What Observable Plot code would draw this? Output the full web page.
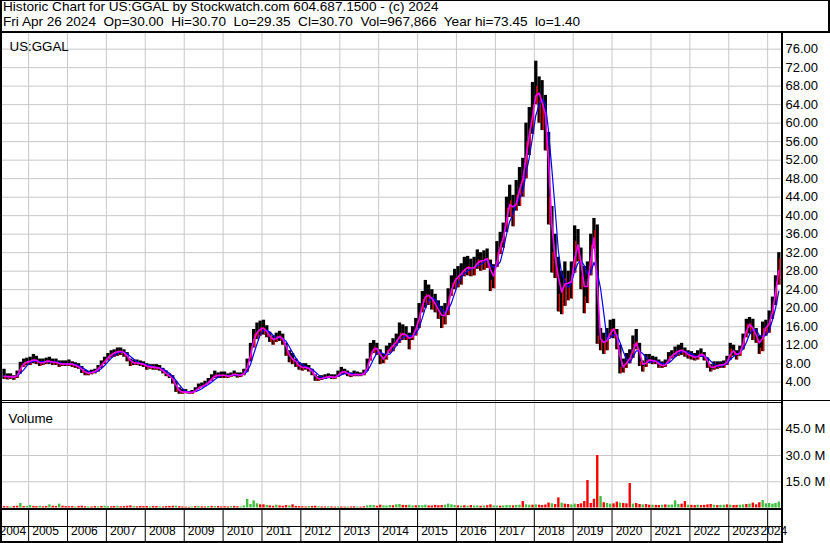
<!DOCTYPE html>
<html><head><meta charset="utf-8">
<script src="https://cdn.jsdelivr.net/npm/d3@7"></script>
<script src="https://cdn.jsdelivr.net/npm/@observablehq/plot@0.6"></script>
<style>
html,body{margin:0;padding:0;background:#fff;}
#chart{position:relative;width:830px;height:543px;background:#fff;overflow:hidden;font-family:'Liberation Sans',Arial,sans-serif;color:#000;}
.ln{position:absolute;background:#000;}
.tl{position:absolute;left:3px;font-size:13.6px;line-height:14px;white-space:pre;color:#000;}
.pl{position:absolute;left:0;}
</style></head>
<body>
<div id="chart">
  <div class="tl" style="top:0px">Historic Chart for US:GGAL by Stockwatch.com 604.687.1500 - (c) 2024</div>
  <div class="tl" style="top:14.5px">Fri Apr 26 2024  Op=30.00  Hi=30.70  Lo=29.35  Cl=30.70  Vol=967,866  Year hi=73.45  lo=1.40</div>
  <div class="pl" id="price" style="top:32px"></div>
  <div class="pl" id="vol" style="top:402px"></div>
  <div class="pl" id="xaxis" style="top:510px"></div>
  <div class="ln" style="left:0;top:0;width:830px;height:1px"></div>
  <div class="ln" style="left:0;top:31px;width:830px;height:2px"></div>
  <div class="ln" style="left:0;top:0;width:2px;height:543px"></div>
  <div class="ln" style="left:828px;top:0;width:2px;height:33px"></div>
  <div class="ln" style="left:781px;top:31px;width:2px;height:512px"></div>
  <div class="ln" style="left:0;top:400px;width:830px;height:1px"></div>
  <div class="ln" style="left:0;top:402px;width:781px;height:1px"></div>
  <div class="ln" style="left:0;top:508px;width:781px;height:2px"></div>
  <div class="ln" style="left:0;top:526px;width:781px;height:1px"></div>
  <div class="ln" style="left:0;top:541px;width:781px;height:2px"></div>
</div>
<script>
// ---- Data (monthly, May 2004 .. Apr 2024) ----
const firstMonth = "2004-05";
const hi = [
  6.8,5.8,5.8,5.4,6.4,8.3,9.0,9.2,
  9.4,10.0,9.6,9.0,9.0,9.2,9.4,9.0,9.0,8.6,8.6,8.6,
  8.8,8.4,8.2,8.0,7.4,6.6,6.4,6.6,6.8,7.6,8.6,9.4,
  10.2,10.8,11.0,11.4,11.4,11.0,10.4,9.0,8.8,8.8,8.6,8.4,
  8.0,7.8,7.8,7.8,7.6,7.0,6.4,5.8,5.4,4.2,2.8,2.4,
  2.4,2.0,2.2,2.8,3.6,3.8,4.2,4.8,5.6,6.4,6.0,6.2,
  6.2,5.8,6.0,6.4,6.0,6.0,6.8,9.0,12.4,15.4,16.8,17.2,
  17.4,16.2,14.8,14.0,14.6,15.0,14.4,12.4,10.8,10.2,9.0,8.2,
  8.0,8.0,7.6,6.8,5.6,5.2,5.4,5.6,5.8,5.6,5.6,6.4,
  7.2,6.8,6.4,6.0,6.4,6.2,6.0,6.6,9.0,12.4,13.0,12.4,
  11.0,10.0,11.8,12.4,13.4,14.4,16.8,16.4,16.0,14.6,16.0,17.8,
  21.0,23.6,26.0,25.0,24.0,23.0,21.6,20.4,21.0,24.2,27.0,28.4,
  29.0,29.6,31.0,31.2,30.6,31.0,32.6,32.0,32.4,32.8,30.4,29.4,
  34.4,36.4,38.4,44.0,46.6,44.4,47.6,50.4,52.4,60.0,63.4,68.8,
  73.4,70.0,69.2,66.0,58.0,42.0,36.0,31.0,28.0,30.0,28.0,30.0,
  37.8,37.0,33.0,29.0,30.0,36.0,39.4,38.0,15.6,14.6,15.6,17.4,
  17.6,15.4,12.0,9.0,10.2,11.0,14.0,15.4,12.4,8.6,10.0,10.0,
  9.6,9.4,8.8,8.4,8.8,10.4,10.8,11.6,12.0,12.4,11.4,10.8,
  10.6,10.2,10.8,11.2,10.4,9.2,7.8,8.4,8.4,8.4,8.6,9.6,
  12.4,12.0,10.8,11.8,14.4,17.6,18.0,17.6,15.6,14.0,17.0,17.4,
  19.4,22.4,27.0,32.0
];
const lo = [
  4.6,4.5,4.6,4.4,4.8,5.8,7.2,7.6,
  7.6,8.0,7.8,7.4,7.6,7.8,7.8,7.6,7.6,7.2,7.4,7.4,
  7.4,7.2,7.0,6.8,5.9,5.4,5.4,5.6,5.8,6.2,7.0,7.8,
  8.6,9.2,9.4,9.6,9.8,9.4,8.4,7.4,7.6,7.6,7.4,7.2,
  6.6,6.8,6.6,6.6,6.4,5.8,5.2,4.8,3.6,1.8,1.4,1.4,
  1.5,1.4,1.4,1.8,2.4,2.8,3.0,3.6,4.2,4.8,4.8,4.8,
  4.8,4.8,5.0,5.2,4.9,5.0,5.4,6.2,8.4,11.4,13.2,14.0,
  14.2,13.6,12.6,12.0,12.6,12.8,12.0,9.6,8.2,7.8,7.2,6.6,
  6.4,6.6,6.2,5.4,4.2,4.2,4.4,4.6,4.8,4.6,4.6,5.0,
  5.6,5.6,5.2,5.0,5.2,5.2,5.2,5.4,6.4,8.6,10.2,9.8,
  7.8,8.0,8.8,10.2,10.6,11.8,12.4,13.0,13.0,11.0,13.0,14.0,
  15.6,19.0,20.0,20.6,19.6,19.0,17.6,15.6,16.4,18.4,22.6,24.0,
  24.4,25.0,26.8,27.0,26.8,27.0,28.4,28.0,28.2,28.6,23.6,24.2,
  28.8,31.6,33.0,36.4,39.6,37.6,41.0,42.0,44.0,48.0,53.0,57.6,
  64.0,60.0,58.4,54.0,38.0,27.6,26.4,19.2,18.6,20.4,21.6,22.0,
  27.6,30.0,24.0,18.8,21.0,27.0,32.8,12.2,10.8,10.0,10.8,13.6,
  13.4,11.0,5.8,6.0,7.0,8.0,9.2,11.0,7.4,6.2,7.2,8.0,
  7.8,7.8,7.0,7.0,7.2,8.2,9.0,9.4,9.6,9.8,9.4,9.0,
  8.8,8.6,8.8,9.4,8.6,7.0,6.2,6.6,6.8,7.0,7.0,7.6,
  8.8,9.6,8.8,9.6,11.0,13.6,14.4,13.0,12.4,10.0,10.6,14.0,
  14.6,17.6,20.6,25.0
];
const cl = [
  5.3,5.1,5.3,4.9,5.8,7.6,8.3,8.4,
  8.6,9.0,8.5,8.0,8.4,8.6,8.5,8.2,8.3,7.8,8.0,7.9,
  8.0,7.8,7.5,7.2,6.4,6.0,5.9,6.2,6.4,7.2,8.0,8.8,
  9.6,10.2,10.4,10.8,10.6,10.2,9.2,8.2,8.2,8.1,8.0,7.8,
  7.2,7.4,7.1,7.2,6.8,6.2,5.6,5.2,4.2,2.6,1.9,1.8,
  1.9,1.7,1.8,2.4,3.0,3.2,3.6,4.2,5.0,5.6,5.4,5.6,
  5.4,5.2,5.6,5.8,5.4,5.5,6.2,8.0,11.6,14.4,15.0,15.8,
  15.6,14.4,13.6,13.0,13.8,14.0,12.8,10.8,9.0,9.0,8.0,7.2,
  7.2,7.2,6.8,6.0,4.8,4.7,4.9,5.1,5.3,5.0,5.1,5.8,
  6.4,6.2,5.7,5.4,5.8,5.6,5.6,6.0,8.0,10.6,11.6,11.0,
  9.0,9.0,10.8,11.4,12.4,13.0,14.6,14.4,14.0,13.0,14.6,16.2,
  19.0,21.8,23.0,22.6,21.6,20.4,19.0,18.0,18.8,22.4,25.2,26.4,
  27.0,27.8,28.6,29.0,28.4,29.0,30.4,30.0,30.6,30.8,26.0,27.8,
  32.0,34.2,36.0,41.6,43.2,40.6,44.4,46.6,49.0,56.0,58.8,63.8,
  68.0,65.0,64.0,60.0,44.0,32.0,30.4,23.0,24.0,26.4,24.4,27.0,
  34.4,33.0,27.0,22.4,27.0,33.6,36.8,14.0,12.8,12.4,13.6,15.4,
  15.6,12.4,7.2,7.4,8.8,9.4,12.2,12.8,8.4,7.4,8.8,8.8,
  8.6,8.4,7.6,7.6,7.8,9.6,9.8,10.6,10.8,11.0,10.2,9.8,
  9.6,9.2,9.8,10.2,9.4,7.8,6.8,7.6,7.6,7.8,7.8,8.8,
  11.2,10.4,9.6,10.8,13.6,16.4,16.6,14.8,13.6,11.4,15.6,15.8,
  17.4,21.0,25.6,30.7
];
// volume in millions of shares (tallest visible bar per month)
const vol = [
  0.8,0.7,0.6,0.9,1.0,2.6,0.8,0.9,
  1.4,0.9,0.8,1.0,0.7,0.9,1.8,1.0,0.9,2.2,1.0,0.8,
  0.7,0.8,0.6,0.9,1.0,0.7,0.6,0.6,0.8,0.7,0.9,1.0,
  0.8,0.7,0.9,1.0,0.7,0.8,1.0,1.2,0.8,0.7,0.9,0.8,
  0.9,0.7,0.8,0.9,0.7,0.6,0.8,0.9,1.0,1.1,0.8,0.6,
  0.5,0.4,0.6,0.8,0.9,0.7,0.6,0.8,0.9,0.8,0.9,0.6,
  0.7,0.6,0.8,0.9,0.7,0.6,1.2,4.9,2.0,4.1,2.4,1.8,
  1.8,1.5,1.2,1.0,1.6,1.2,1.0,1.4,1.2,1.8,0.9,0.8,
  0.7,0.6,0.8,0.9,1.0,0.7,0.6,0.6,0.7,0.6,0.5,0.6,
  0.6,0.5,0.6,0.6,0.7,0.6,0.5,0.7,1.2,1.5,1.4,1.0,
  1.6,1.2,1.1,1.4,1.3,1.8,2.0,1.5,1.4,1.6,1.2,1.3,
  1.4,1.3,1.6,1.2,1.1,1.5,1.3,1.4,1.6,2.2,1.8,1.4,
  1.2,1.1,1.3,1.0,1.4,1.1,1.2,1.0,1.1,1.3,1.8,1.2,
  1.1,1.0,1.2,1.4,1.3,1.2,1.5,1.6,3.7,1.8,1.6,1.6,
  1.8,1.6,1.4,1.7,2.8,2.4,2.0,5.8,2.8,2.2,2.0,1.8,
  2.2,2.0,2.4,3.7,15.7,2.6,5.0,30.0,6.6,3.0,2.6,2.2,
  2.4,3.4,2.8,2.6,2.4,14.0,2.2,2.6,2.0,1.8,2.0,1.6,
  1.6,1.5,1.4,1.6,1.8,1.6,1.7,4.1,2.0,2.2,3.7,1.6,
  1.5,1.4,1.6,1.4,1.5,1.8,2.0,1.6,1.4,1.5,1.6,1.8,
  1.6,1.4,1.5,1.6,1.8,2.0,2.2,2.8,1.8,3.0,4.3,2.4,
  2.6,2.2,2.6,3.4
];
// volume bar colour per month as seen in the reference: g = up (green), r = down (red)
const volDir =
  "rrgrrgrg" +
  "grrgrrgrrgrr" + "rrgrrrgrrgrg" + "grrgrrrrgrrr" + "rgrrgrrrrgrr" +
  "rrgrgrrgrgrr" + "rrgrrggggggr" + "rgrrgrrrgrrr" + "rrgrrgrrgrrg" +
  "rrgrrgrrgggr" + "rgggrggrrggr" + "gggrrrrrgggg" + "rgrgrggrgrrg" +
  "grgggrggrggr" + "grrrrgrrgrrg" + "grrrrrrrgrgg" + "rrgrrrgrrgrr" +
  "grrgrggggrrg" + "rrgrrrrgrggr" + "grrggrgrrrgg" + "gggg";
const years = ["2004","2005","2006","2007","2008","2009","2010","2011","2012","2013","2014",
               "2015","2016","2017","2018","2019","2020","2021","2022","2023","2024"];
const priceTicks = [4,8,12,16,20,24,28,32,36,40,44,48,52,56,60,64,68,72,76];
const volTicks = [15,30,45];
const startDay = "2004-04-26", endDay = "2024-04-26";
const symbol = "US:GGAL";

// ---- build rows ----
const start = new Date(startDay + "T00:00Z"), end = new Date(endDay + "T00:00Z");
const m0 = new Date(firstMonth + "-01T00:00Z");
const rows = hi.map((h, i) => ({
  date: d3.utcDay.offset(d3.utcMonth.offset(m0, i), 14),
  hi: h, lo: lo[i], cl: cl[i], vol: vol[i],
  up: volDir[i] === "g"
}));
const yearBounds = years.slice(1).map(y => new Date(Date.UTC(+y, 0, 1)));
const yearLabels = years.map(y => {
  const s = Math.max(+new Date(Date.UTC(+y, 0, 1)), +start);
  const e = Math.min(+new Date(Date.UTC(+y + 1, 0, 1)), +end);
  return {year: y, mid: new Date((s + e) / 2)};
});

const W = 830, MR = 49;
const xScale = {type: "utc", domain: [start, end], range: [1.5, 779.5], axis: null};
const style = {fontFamily: "'Liberation Sans', Arial, sans-serif", fontSize: "13px", background: "transparent", overflow: "visible", color: "#000"};
const GRID = "#c8c8c8";

const price = Plot.plot({
  width: W, height: 370, marginLeft: 0, marginRight: MR, marginTop: 0, marginBottom: 0,
  x: xScale,
  y: {domain: [0, 79.6], range: [368.2, 0], label: null, axis: null},
  style,
  marks: [
    Plot.ruleY(priceTicks, {stroke: GRID, strokeWidth: 1}),
    Plot.ruleX(yearBounds, {stroke: GRID, strokeWidth: 1}),
    Plot.ruleX(rows, {x: "date", y1: "lo", y2: "hi", stroke: "#000", strokeWidth: 3.3}),
    Plot.ruleX(rows, {x: "date", y1: "lo", y2: "cl", stroke: "#ff0000", strokeWidth: 1.2, dx: 1}),
    Plot.lineY(rows, Plot.windowY({k: 4, anchor: "end"}, {x: "date", y: "cl", stroke: "#0000ff", strokeWidth: 1.2})),
    Plot.lineY(rows, Plot.windowY({k: 2, anchor: "end"}, {x: "date", y: "cl", stroke: "#ff00ff", strokeWidth: 1.6})),
    Plot.axisY(priceTicks, {anchor: "right", tickSize: 0, tickPadding: 4, tickFormat: d => d.toFixed(2), fill: "#000", fontSize: 13}),
    Plot.text([symbol], {frameAnchor: "top-left", dx: 9, dy: 9, textAnchor: "start", fontSize: 13.33, fill: "#000"})
  ]
});
document.getElementById("price").appendChild(price);

const volume = Plot.plot({
  width: W, height: 108, marginLeft: 0, marginRight: MR, marginTop: 0, marginBottom: 0,
  x: xScale,
  y: {domain: [0, 60], range: [105.5, 0.5], label: null, axis: null},
  style,
  marks: [
    Plot.ruleY(volTicks, {stroke: GRID, strokeWidth: 1}),
    Plot.ruleX(yearBounds, {stroke: GRID, strokeWidth: 1}),
    Plot.ruleX(rows, {x: "date", y1: 0, y2: "vol", stroke: d => d.up ? "#3fbf3f" : "#ff0000", strokeWidth: 2.4}),
    Plot.axisY(volTicks, {anchor: "right", tickSize: 0, tickPadding: 4, tickFormat: d => d.toFixed(1) + " M", fill: "#000", fontSize: 13}),
    Plot.text(["Volume"], {frameAnchor: "top-left", dx: 8, dy: 11, textAnchor: "start", fontSize: 13.33, fill: "#000"})
  ]
});
document.getElementById("vol").appendChild(volume);

const xaxis = Plot.plot({
  width: W, height: 32, marginLeft: 0, marginRight: MR, marginTop: 0, marginBottom: 0,
  x: xScale,
  style,
  marks: [
    Plot.ruleX(yearBounds, {stroke: "#000", strokeWidth: 1}),
    Plot.text(yearLabels.slice(0, -1), {x: "mid", text: "year", frameAnchor: "bottom", dy: -8, dx: -2.5, fontSize: 12, fill: "#000"}),
    Plot.text(yearLabels.slice(-1), {x: "mid", text: "year", frameAnchor: "bottom", dy: -8, dx: 0, fontSize: 12, fill: "#000"})
  ]
});
document.getElementById("xaxis").appendChild(xaxis);
</script>
</body></html>
